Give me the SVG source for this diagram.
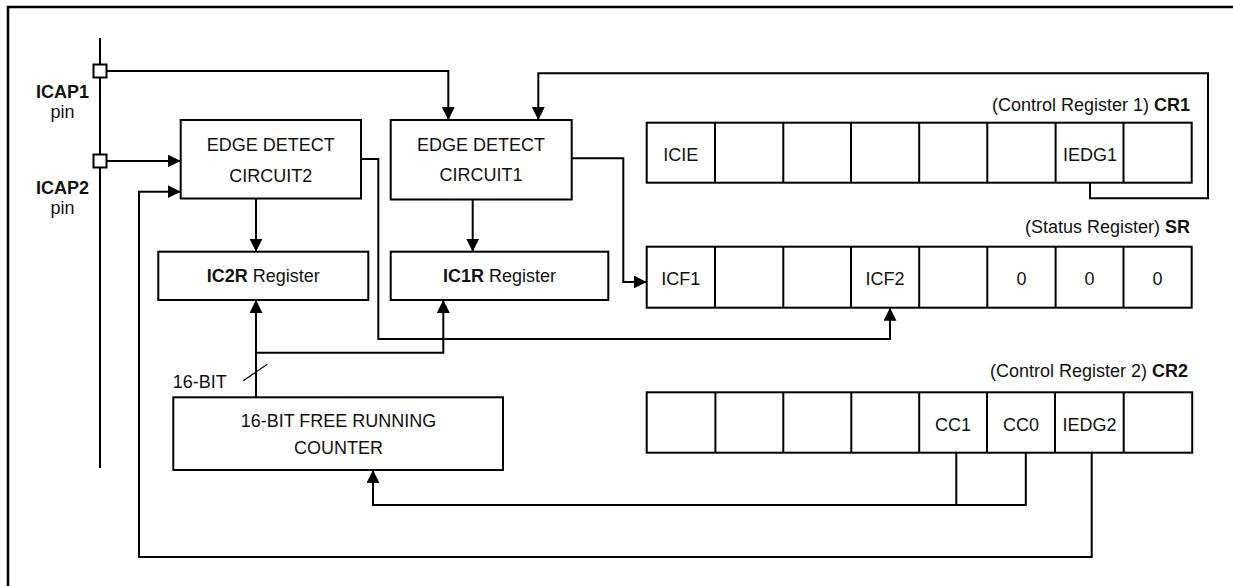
<svg xmlns="http://www.w3.org/2000/svg" width="1233" height="586" viewBox="0 0 1233 586">
<style>
  .box{fill:#fff;stroke:#000;stroke-width:2}
  .ln{fill:none;stroke:#000;stroke-width:2}
  .t{font-family:"Liberation Sans",Arial,sans-serif;font-size:18px;fill:#111}
  .m{text-anchor:middle}
  .e{text-anchor:end}
  .b{font-weight:bold}
</style>
<defs>
  <marker id="ah" markerUnits="userSpaceOnUse" markerWidth="14" markerHeight="14" refX="13" refY="6.5" orient="auto">
    <path d="M0,0 L13,6.5 L0,13 z" fill="#000"/>
  </marker>
</defs>
<rect width="1233" height="586" fill="#fff"/>
<!-- frame -->
<path d="M8,586 V7 H1233" fill="none" stroke="#000" stroke-width="2.5"/>

<g id="connectors">
  <!-- ICAP pin line -->
  <path class="ln" d="M100,38 V468"/>
  <!-- ICAP1 to edge detect circuit1 -->
  <path class="ln" d="M107,71 H448.3 V120" marker-end="url(#ah)"/>
  <!-- ICAP2 to edge detect circuit2 -->
  <path class="ln" d="M107,161 H180.7" marker-end="url(#ah)"/>
  <!-- IEDG1 feedback to circuit1 -->
  <path class="ln" d="M1090,182.7 V198.3 H1208 V73.3 H538.3 V120" marker-end="url(#ah)"/>
  <!-- circuit1 to ICF1 -->
  <path class="ln" d="M571.7,158.3 H623.3 V282 H646.7" marker-end="url(#ah)"/>
  <!-- circuit2 to ICF2 -->
  <path class="ln" d="M361,159 H378.3 V339 H890 V307.7" marker-end="url(#ah)"/>
  <!-- circuit2 to IC2R -->
  <path class="ln" d="M256,198.5 V251.7" marker-end="url(#ah)"/>
  <!-- circuit1 to IC1R -->
  <path class="ln" d="M472.7,199.5 V251.7" marker-end="url(#ah)"/>
  <!-- counter to IC2R -->
  <path class="ln" d="M256,397.3 V300" marker-end="url(#ah)"/>
  <!-- branch to IC1R -->
  <path class="ln" d="M256,352.7 H443.3 V300" marker-end="url(#ah)"/>
  <!-- 16-bit bus slash -->
  <path d="M243.3,380.7 L267.3,364.3" stroke="#000" stroke-width="1.2"/>
  <!-- CC1/CC0 to counter -->
  <path class="ln" d="M956.3,452.7 V505"/>
  <path class="ln" d="M1025.8,452.7 V505 H373 V470" marker-end="url(#ah)"/>
  <!-- IEDG2 feedback to circuit2 -->
  <path class="ln" d="M1091.7,452.7 V557 H139 V191.7 H180.7" marker-end="url(#ah)"/>
</g>

<g id="icap1">
  <rect class="box" x="93.5" y="64.5" width="13" height="13"/>
  <text class="t m b" x="62.5" y="98.3">ICAP1</text>
  <text class="t m" x="62.5" y="118.3">pin</text>
</g>
<g id="icap2">
  <rect class="box" x="93.5" y="154.5" width="13" height="13"/>
  <text class="t m b" x="62.5" y="194">ICAP2</text>
  <text class="t m" x="62.5" y="214">pin</text>
</g>

<g id="edge2">
  <rect class="box" x="180.7" y="120" width="180.3" height="78.5"/>
  <text class="t m" x="270.8" y="150.7">EDGE DETECT</text>
  <text class="t m" x="270.8" y="181.7">CIRCUIT2</text>
</g>
<g id="edge1">
  <rect class="box" x="390.7" y="120" width="181" height="79.5"/>
  <text class="t m" x="481" y="150.7">EDGE DETECT</text>
  <text class="t m" x="481" y="180.7">CIRCUIT1</text>
</g>
<g id="ic2r">
  <rect class="box" x="158.3" y="251.7" width="210" height="48.3"/>
  <text class="t m" x="263.3" y="281.7"><tspan class="b">IC2R</tspan> Register</text>
</g>
<g id="ic1r">
  <rect class="box" x="390.7" y="251.7" width="217.6" height="48.3"/>
  <text class="t m" x="499.5" y="281.7"><tspan class="b">IC1R</tspan> Register</text>
</g>
<g id="counter">
  <rect class="box" x="173.3" y="397.3" width="329.7" height="72.7"/>
  <text class="t m" x="338.5" y="426.7">16-BIT FREE RUNNING</text>
  <text class="t m" x="338.5" y="454">COUNTER</text>
</g>
<text class="t" x="172.7" y="387.7">16-BIT</text>

<g id="cr1">
  <text class="t e" x="1190" y="110.7">(Control Register 1) <tspan class="b">CR1</tspan></text>
  <rect class="box" x="646.7" y="122.7" width="545" height="60"/>
  <path class="ln" d="M715,122.7 V182.7 M783.3,122.7 V182.7 M851,122.7 V182.7 M919.2,122.7 V182.7 M987.3,122.7 V182.7 M1055.6,122.7 V182.7 M1123.5,122.7 V182.7"/>
  <text class="t m" x="680.8" y="161">ICIE</text>
  <text class="t m" x="1090" y="161">IEDG1</text>
</g>
<g id="sr">
  <text class="t e" x="1190" y="233.3">(Status Register) <tspan class="b">SR</tspan></text>
  <rect class="box" x="646.7" y="246.7" width="545" height="61"/>
  <path class="ln" d="M715,246.7 V307.7 M783.3,246.7 V307.7 M851,246.7 V307.7 M919.2,246.7 V307.7 M987.3,246.7 V307.7 M1055.6,246.7 V307.7 M1123.5,246.7 V307.7"/>
  <text class="t m" x="680.8" y="285">ICF1</text>
  <text class="t m" x="885" y="285">ICF2</text>
  <text class="t m" x="1021.4" y="285">0</text>
  <text class="t m" x="1089.5" y="285">0</text>
  <text class="t m" x="1157.6" y="285">0</text>
</g>
<g id="cr2">
  <text class="t e" x="1188" y="376.7">(Control Register 2) <tspan class="b">CR2</tspan></text>
  <rect class="box" x="646.7" y="392.3" width="545.5" height="60.4"/>
  <path class="ln" d="M715.4,392.3 V452.7 M783.3,392.3 V452.7 M851.3,392.3 V452.7 M919.2,392.3 V452.7 M987,392.3 V452.7 M1055,392.3 V452.7 M1123.7,392.3 V452.7"/>
  <text class="t m" x="953" y="430.7">CC1</text>
  <text class="t m" x="1021" y="430.7">CC0</text>
  <text class="t m" x="1089.4" y="430.7">IEDG2</text>
</g>
</svg>
